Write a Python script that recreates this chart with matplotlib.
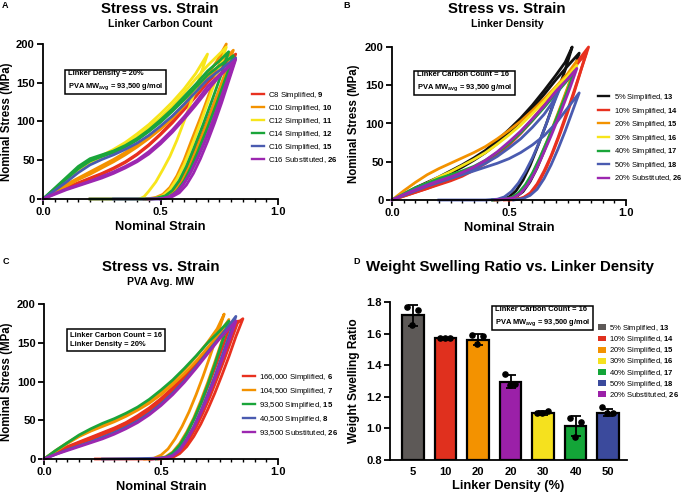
import matplotlib
matplotlib.use("Agg")
import matplotlib.pyplot as plt
from matplotlib.patches import Patch
from matplotlib.lines import Line2D
from matplotlib.ticker import MultipleLocator

plt.rcParams["font.family"] = ["Liberation Sans", "DejaVu Sans"]
plt.rcParams["mathtext.fontset"] = "custom"
plt.rcParams["mathtext.rm"] = "Liberation Sans"
plt.rcParams["mathtext.bf"] = "Liberation Sans:bold"
plt.rcParams["mathtext.it"] = "Liberation Sans:italic"

# -------------------------------
# A: linker carbon count (strain, stress MPa), one list per loop
# -------------------------------
a_c8 = [
    [(0, 0), (0.05, 8), (0.1, 15), (0.15, 21), (0.2, 27), (0.25, 33), (0.3, 40), (0.35, 48), (0.4, 58),
     (0.45, 70), (0.5, 84), (0.55, 100), (0.6, 117), (0.65, 135), (0.7, 154), (0.76, 172), (0.82, 187),
     (0.78, 155), (0.74, 124), (0.7, 93), (0.66, 62), (0.63, 40), (0.6, 22), (0.57, 10), (0.54, 4),
     (0.5, 1), (0.45, 0), (0.2, 0)],
    [(0, 0), (0.05, 7), (0.1, 14), (0.15, 20), (0.2, 26), (0.25, 32), (0.3, 39), (0.35, 47), (0.4, 57),
     (0.45, 69), (0.5, 83), (0.55, 98), (0.6, 115), (0.65, 132), (0.7, 150), (0.75, 166), (0.8, 180),
     (0.76, 148), (0.72, 117), (0.68, 86), (0.64, 57), (0.61, 37), (0.58, 20), (0.55, 9), (0.52, 3),
     (0.48, 1), (0.43, 0)],
]
a_c10 = [
    [(0, 0), (0.05, 10), (0.1, 19), (0.15, 27), (0.2, 35), (0.25, 43), (0.3, 51), (0.35, 60), (0.4, 70),
     (0.45, 80), (0.5, 92), (0.55, 106), (0.6, 122), (0.65, 140), (0.7, 160), (0.74, 178), (0.78, 200),
     (0.75, 172), (0.71, 138), (0.67, 105), (0.63, 74), (0.6, 50), (0.57, 30), (0.54, 15), (0.51, 6),
     (0.48, 2), (0.44, 0)],
    [(0, 0), (0.05, 9), (0.1, 17), (0.15, 25), (0.2, 32), (0.25, 40), (0.3, 48), (0.35, 57), (0.4, 67),
     (0.45, 78), (0.5, 90), (0.55, 104), (0.6, 120), (0.65, 137), (0.7, 155), (0.75, 173), (0.81, 192),
     (0.77, 158), (0.73, 125), (0.69, 92), (0.65, 62), (0.62, 40), (0.59, 22), (0.56, 10), (0.53, 4),
     (0.49, 1), (0.45, 0)],
]
a_c12 = [
    [(0, 0), (0.05, 13), (0.1, 26), (0.15, 38), (0.2, 48), (0.25, 56), (0.3, 64), (0.35, 73), (0.4, 84),
     (0.45, 96), (0.5, 110), (0.55, 125), (0.6, 142), (0.65, 162), (0.7, 187),
     (0.67, 160), (0.63, 125), (0.6, 100), (0.57, 76), (0.54, 55), (0.51, 38), (0.48, 22), (0.45, 10),
     (0.43, 3), (0.41, 0)],
    [(0, 0), (0.05, 12), (0.1, 24), (0.15, 36), (0.2, 46), (0.25, 54), (0.3, 62), (0.35, 70), (0.4, 80),
     (0.45, 92), (0.5, 105), (0.55, 120), (0.6, 137), (0.65, 155), (0.7, 172), (0.78, 196),
     (0.75, 168), (0.71, 132), (0.67, 98), (0.63, 66), (0.6, 44), (0.57, 26), (0.54, 12), (0.51, 4),
     (0.48, 1), (0.45, 0)],
]
a_c14 = [
    [(0, 0), (0.05, 14), (0.1, 28), (0.15, 42), (0.2, 52), (0.25, 57), (0.3, 62), (0.35, 69), (0.4, 78),
     (0.45, 89), (0.5, 102), (0.55, 116), (0.6, 132), (0.65, 148), (0.7, 165), (0.75, 178), (0.79, 190),
     (0.76, 162), (0.72, 128), (0.68, 95), (0.64, 64), (0.61, 42), (0.58, 24), (0.55, 11), (0.52, 4),
     (0.48, 1), (0.44, 0), (0.2, 0)],
    [(0, 0), (0.05, 13), (0.1, 26), (0.15, 39), (0.2, 49), (0.25, 55), (0.3, 60), (0.35, 67), (0.4, 76),
     (0.45, 87), (0.5, 99), (0.55, 113), (0.6, 128), (0.65, 144), (0.7, 160), (0.76, 174), (0.81, 185),
     (0.78, 158), (0.74, 124), (0.7, 92), (0.66, 62), (0.63, 41), (0.6, 23), (0.57, 10), (0.54, 3),
     (0.5, 1), (0.46, 0)],
]
a_c16 = [
    [(0, 0), (0.05, 11), (0.1, 22), (0.15, 34), (0.2, 44), (0.25, 51), (0.3, 57), (0.35, 64), (0.4, 72),
     (0.45, 82), (0.5, 94), (0.55, 107), (0.6, 122), (0.65, 138), (0.7, 154), (0.76, 168), (0.82, 182),
     (0.79, 155), (0.76, 128), (0.72, 97), (0.68, 68), (0.65, 48), (0.62, 30), (0.59, 16), (0.56, 7),
     (0.53, 2), (0.5, 0), (0.3, 0)],
]
a_c16_sub = [
    [(0, 0), (0.05, 7), (0.1, 13), (0.15, 18), (0.2, 23), (0.25, 29), (0.3, 35), (0.35, 42), (0.4, 50),
     (0.45, 61), (0.5, 74), (0.55, 89), (0.6, 106), (0.65, 125), (0.7, 145), (0.76, 163), (0.82, 180),
     (0.79, 152), (0.76, 124), (0.73, 98), (0.7, 74), (0.67, 52), (0.64, 33), (0.61, 18), (0.58, 8),
     (0.55, 3), (0.51, 0.5), (0.45, 0)],
    [(0, 0), (0.05, 6), (0.1, 12), (0.15, 17), (0.2, 22), (0.25, 27), (0.3, 33), (0.35, 40), (0.4, 48),
     (0.45, 58), (0.5, 71), (0.55, 86), (0.6, 103), (0.65, 121), (0.7, 140), (0.75, 158), (0.81, 176),
     (0.78, 150), (0.75, 124), (0.72, 99), (0.69, 76), (0.66, 54), (0.63, 35), (0.6, 20), (0.57, 9),
     (0.54, 3), (0.5, 0)],
]
a_labels = ["C8 Simplified, $\\mathbf{9}$", "C10 Simplified, $\\mathbf{10}$", "C12 Simplified, $\\mathbf{11}$",
            "C14 Simplified, $\\mathbf{12}$", "C16 Simplified, $\\mathbf{15}$", "C16 Substituted, $\\mathbf{26}$"]
a_series = [a_c8, a_c10, a_c12, a_c14, a_c16, a_c16_sub]
a_colors = ["#e8311f", "#f39200", "#f7e51b", "#1aa53a", "#4a5bb0", "#9c27b0"]

# -------------------------------
# B: linker density
# -------------------------------
b_5 = [
    [(0, 0), (0.05, 8), (0.1, 16), (0.15, 23), (0.2, 30), (0.25, 38), (0.3, 46), (0.35, 55), (0.4, 65),
     (0.45, 78), (0.5, 92), (0.55, 107), (0.6, 124), (0.65, 143), (0.7, 163), (0.74, 180), (0.77, 200),
     (0.74, 170), (0.7, 135), (0.66, 100), (0.62, 68), (0.59, 45), (0.56, 26), (0.53, 12), (0.5, 4),
     (0.47, 1), (0.43, 0)],
    [(0, 0), (0.05, 7), (0.1, 14), (0.15, 21), (0.2, 28), (0.25, 35), (0.3, 43), (0.35, 52), (0.4, 62),
     (0.45, 74), (0.5, 88), (0.55, 103), (0.6, 120), (0.65, 138), (0.7, 157), (0.75, 175), (0.8, 192),
     (0.77, 162), (0.73, 128), (0.69, 95), (0.65, 64), (0.62, 42), (0.59, 24), (0.56, 11), (0.53, 4),
     (0.5, 1), (0.45, 0)],
]
b_10 = [
    [(0, 0), (0.05, 5), (0.1, 10), (0.15, 15), (0.2, 20), (0.25, 25), (0.3, 31), (0.35, 39), (0.4, 48),
     (0.45, 59), (0.5, 72), (0.55, 87), (0.6, 104), (0.65, 122), (0.7, 142), (0.75, 162), (0.8, 184),
     (0.84, 200), (0.81, 172), (0.78, 142), (0.75, 114), (0.72, 88), (0.69, 64), (0.66, 42), (0.63, 24),
     (0.6, 11), (0.57, 4), (0.54, 1), (0.5, 0)],
    [(0, 0), (0.05, 5), (0.1, 10), (0.15, 15), (0.2, 21), (0.25, 26), (0.3, 33), (0.35, 41), (0.4, 50),
     (0.45, 61), (0.5, 74), (0.55, 89), (0.6, 106), (0.65, 124), (0.7, 143), (0.75, 162), (0.8, 181),
     (0.83, 192), (0.8, 163), (0.77, 135), (0.74, 108), (0.71, 82), (0.68, 58), (0.65, 38), (0.62, 21),
     (0.59, 9), (0.56, 3), (0.52, 0.5), (0.48, 0)],
]
b_20 = [
    [(0, 0), (0.05, 12), (0.1, 23), (0.15, 33), (0.2, 41), (0.25, 48), (0.3, 55), (0.35, 62), (0.4, 70),
     (0.45, 80), (0.5, 91), (0.55, 103), (0.6, 117), (0.65, 132), (0.7, 148), (0.75, 165), (0.79, 182),
     (0.76, 155), (0.72, 122), (0.68, 90), (0.64, 60), (0.61, 40), (0.58, 23), (0.55, 10), (0.52, 3),
     (0.48, 1), (0.44, 0)],
]
b_30 = [
    [(0, 0), (0.05, 8), (0.1, 15), (0.15, 22), (0.2, 30), (0.25, 37), (0.3, 45), (0.35, 53), (0.4, 62),
     (0.45, 73), (0.5, 85), (0.55, 98), (0.6, 113), (0.65, 129), (0.7, 147), (0.75, 162), (0.79, 176),
     (0.76, 150), (0.72, 118), (0.68, 87), (0.64, 58), (0.61, 38), (0.58, 22), (0.55, 10), (0.52, 3),
     (0.48, 1), (0.44, 0)],
]
b_40 = [
    [(0, 0), (0.05, 8), (0.1, 16), (0.15, 22), (0.2, 28), (0.25, 33), (0.3, 38), (0.35, 44), (0.4, 52),
     (0.45, 62), (0.5, 74), (0.55, 88), (0.6, 104), (0.65, 121), (0.7, 139), (0.74, 153), (0.78, 168),
     (0.75, 143), (0.71, 112), (0.67, 82), (0.63, 54), (0.6, 35), (0.57, 20), (0.54, 9), (0.51, 3),
     (0.47, 1), (0.43, 0)],
]
b_50 = [
    [(0, 0), (0.05, 7), (0.1, 14), (0.15, 20), (0.2, 25), (0.25, 30), (0.3, 35), (0.35, 41), (0.4, 48),
     (0.45, 57), (0.5, 68), (0.55, 80), (0.6, 95), (0.65, 112), (0.68, 125), (0.72, 148),
     (0.69, 125), (0.66, 100), (0.63, 76), (0.6, 55), (0.57, 37), (0.54, 22), (0.51, 11), (0.48, 4),
     (0.45, 1), (0.4, 0), (0.2, 0)],
    [(0, 0), (0.05, 6), (0.1, 12), (0.15, 18), (0.2, 23), (0.25, 28), (0.3, 33), (0.35, 38), (0.4, 43),
     (0.45, 48), (0.5, 54), (0.55, 62), (0.6, 72), (0.65, 84), (0.7, 100), (0.75, 120), (0.8, 140),
     (0.77, 115), (0.74, 90), (0.71, 67), (0.68, 46), (0.65, 28), (0.62, 14), (0.59, 6), (0.56, 2),
     (0.52, 0)],
]
b_20_sub = [
    [(0, 0), (0.05, 7), (0.1, 13), (0.15, 19), (0.2, 25), (0.25, 30), (0.3, 36), (0.35, 43), (0.4, 52),
     (0.45, 63), (0.5, 76), (0.55, 90), (0.6, 106), (0.65, 123), (0.7, 142), (0.75, 158), (0.79, 172),
     (0.76, 146), (0.72, 114), (0.68, 84), (0.64, 56), (0.61, 36), (0.58, 20), (0.55, 9), (0.52, 3),
     (0.48, 1), (0.44, 0)],
]
b_labels = ["5% Simplified, $\\mathbf{13}$", "10% Simplified, $\\mathbf{14}$", "20% Simplified, $\\mathbf{15}$",
            "30% Simplified, $\\mathbf{16}$", "40% Simplified, $\\mathbf{17}$", "50% Simplified, $\\mathbf{18}$",
            "20% Substituted, $\\mathbf{26}$"]
b_series = [b_5, b_10, b_20, b_30, b_40, b_50, b_20_sub]
b_colors = ["#111111", "#e8311f", "#f39200", "#f7e51b", "#1aa53a", "#4a5bb0", "#9c27b0"]

# -------------------------------
# C: PVA average MW
# -------------------------------
c_166k = [
    [(0, 0), (0.05, 7), (0.1, 14), (0.15, 20), (0.2, 25), (0.25, 31), (0.3, 37), (0.35, 44), (0.4, 52),
     (0.45, 62), (0.5, 74), (0.55, 88), (0.6, 104), (0.65, 121), (0.7, 139), (0.75, 156), (0.8, 170),
     (0.85, 181), (0.82, 158), (0.79, 132), (0.76, 108), (0.73, 85), (0.7, 64), (0.67, 45), (0.64, 29),
     (0.61, 16), (0.58, 7), (0.55, 2), (0.5, 0.5), (0.45, 0), (0.22, 0)],
    [(0, 0), (0.05, 8), (0.1, 16), (0.15, 22), (0.2, 28), (0.25, 34), (0.3, 40), (0.35, 47), (0.4, 56),
     (0.45, 66), (0.5, 78), (0.55, 92), (0.6, 108), (0.65, 125), (0.7, 142), (0.75, 158), (0.8, 170),
     (0.83, 178), (0.8, 153), (0.77, 128), (0.74, 104), (0.71, 81), (0.68, 60), (0.65, 41), (0.62, 25),
     (0.59, 13), (0.56, 5), (0.53, 1), (0.49, 0)],
    [(0, 0), (0.05, 7), (0.1, 15), (0.15, 21), (0.2, 27), (0.25, 33), (0.3, 39), (0.35, 46), (0.4, 54),
     (0.45, 64), (0.5, 76), (0.55, 90), (0.6, 106), (0.65, 123), (0.7, 141), (0.75, 158), (0.8, 176),
     (0.77, 150), (0.74, 125), (0.71, 101), (0.68, 78), (0.65, 57), (0.62, 38), (0.59, 22), (0.56, 10),
     (0.53, 3), (0.5, 1), (0.45, 0)],
]
c_104k = [
    [(0, 0), (0.05, 11), (0.1, 21), (0.15, 30), (0.2, 37), (0.25, 44), (0.3, 50), (0.35, 57), (0.4, 65),
     (0.45, 75), (0.5, 87), (0.55, 100), (0.6, 115), (0.65, 132), (0.7, 151), (0.74, 168), (0.77, 187),
     (0.74, 160), (0.71, 133), (0.68, 107), (0.65, 83), (0.62, 61), (0.59, 42), (0.56, 26), (0.53, 13),
     (0.5, 5), (0.47, 1), (0.43, 0)],
    [(0, 0), (0.05, 10), (0.1, 20), (0.15, 29), (0.2, 36), (0.25, 42), (0.3, 48), (0.35, 55), (0.4, 63),
     (0.45, 72), (0.5, 83), (0.55, 96), (0.6, 110), (0.65, 126), (0.7, 144), (0.75, 162), (0.79, 180),
     (0.76, 152), (0.73, 125), (0.7, 99), (0.67, 75), (0.64, 53), (0.61, 35), (0.58, 20), (0.55, 9),
     (0.52, 3), (0.49, 1), (0.45, 0)],
]
c_93k = [
    [(0, 0), (0.05, 11), (0.1, 21), (0.15, 31), (0.2, 39), (0.25, 46), (0.3, 52), (0.35, 59), (0.4, 67),
     (0.45, 77), (0.5, 89), (0.55, 102), (0.6, 117), (0.65, 133), (0.7, 150), (0.75, 165), (0.79, 178),
     (0.76, 150), (0.73, 122), (0.7, 96), (0.67, 72), (0.64, 51), (0.61, 33), (0.58, 18), (0.55, 8),
     (0.52, 2), (0.48, 0)],
]
c_40k = [
    [(0, 0), (0.05, 6), (0.1, 12), (0.15, 17), (0.2, 22), (0.25, 28), (0.3, 34), (0.35, 41), (0.4, 49),
     (0.45, 59), (0.5, 71), (0.55, 85), (0.6, 101), (0.65, 119), (0.7, 138), (0.75, 157), (0.79, 172),
     (0.82, 184), (0.79, 158), (0.76, 132), (0.73, 107), (0.7, 84), (0.67, 62), (0.64, 42), (0.61, 26),
     (0.58, 13), (0.55, 5), (0.52, 2), (0.48, 1), (0.4, 0.5), (0.25, 0)],
]
c_93k_sub = [
    [(0, 0), (0.05, 6), (0.1, 11), (0.15, 16), (0.2, 21), (0.25, 26), (0.3, 32), (0.35, 39), (0.4, 47),
     (0.45, 57), (0.5, 69), (0.55, 83), (0.6, 99), (0.65, 117), (0.7, 136), (0.75, 155), (0.79, 168),
     (0.82, 178), (0.79, 152), (0.76, 127), (0.73, 103), (0.7, 80), (0.67, 59), (0.64, 40), (0.61, 24),
     (0.58, 11), (0.55, 4), (0.51, 1), (0.46, 0)],
]
c_labels = ["166,000 Simplified, $\\mathbf{6}$", "104,500 Simplified, $\\mathbf{7}$",
            "93,500 Simplified, $\\mathbf{15}$", "40,500 Simplified, $\\mathbf{8}$",
            "93,500 Substituted, $\\mathbf{26}$"]
c_series = [c_166k, c_104k, c_93k, c_40k, c_93k_sub]
c_colors = ["#e8311f", "#f39200", "#1aa53a", "#4a5bb0", "#9c27b0"]

# -------------------------------
# D: weight swelling ratio
# -------------------------------
d_ticks = ["5", "10", "20", "20", "30", "40", "50"]
d_labels = ["5% Simplified, $\\mathbf{13}$", "10% Simplified, $\\mathbf{14}$", "20% Simplified, $\\mathbf{15}$",
            "30% Simplified, $\\mathbf{16}$", "40% Simplified, $\\mathbf{17}$", "50% Simplified, $\\mathbf{18}$",
            "20% Substituted, $\\mathbf{26}$"]
d_means = [1.715, 1.570, 1.562, 1.295, 1.097, 1.015, 1.100]
d_sd = [0.065, 0.005, 0.035, 0.042, 0.010, 0.062, 0.022]
d_points = [
    [1.768, 1.752, 1.653],
    [1.573, 1.573, 1.573],
    [1.589, 1.583, 1.537],
    [1.343, 1.278, 1.274],
    [1.099, 1.109, 1.099],
    [1.067, 1.042, 0.947],
    [1.133, 1.095, 1.095],
]
d_bar_colors = ["#5d5957", "#e0301e", "#f39200", "#9b20a8", "#f5e11e", "#13a538", "#3b4a9c"]
d_legend_colors = ["#5d5957", "#e0301e", "#f39200", "#f5e11e", "#13a538", "#3b4a9c", "#9b20a8"]
d_jitter = [-0.18, 0.15, -0.02]

fig = plt.figure(figsize=(6.85, 4.95), dpi=100)


def style_axes(ax):
    for side in ("top", "right"):
        ax.spines[side].set_visible(False)
    for side in ("left", "bottom"):
        ax.spines[side].set_linewidth(1.3)
    ax.tick_params(which="major", length=4, width=1.3, labelsize=8, pad=2)
    ax.tick_params(which="minor", length=2.5, width=1.0)
    for t in ax.get_xticklabels() + ax.get_yticklabels():
        t.set_fontweight("bold")


def stress_panel(rect, series, colors, labels, legend_xy, spacing, ylab_x, fs=5.6):
    ax = fig.add_axes(rect)
    for loops, col in zip(series, colors):
        for loop in loops:
            ax.plot([p[0] for p in loop], [p[1] for p in loop], color=col, lw=2.0,
                    clip_on=False, solid_joinstyle="round")
    ax.set_xlim(0, 1)
    ax.set_ylim(0, 200)
    ax.set_xticks([0, 0.5, 1.0])
    ax.set_xticklabels(["0.0", "0.5", "1.0"])
    ax.set_yticks([0, 50, 100, 150, 200])
    ax.xaxis.set_minor_locator(MultipleLocator(0.05))
    ax.set_xlabel("Nominal Strain", fontsize=9.3, fontweight="bold", labelpad=3)
    ax.set_ylabel("Nominal Stress (MPa)", fontsize=8.3, fontweight="bold")
    ax.yaxis.set_label_coords(ylab_x, 0.5)
    style_axes(ax)
    handles = [Line2D([], [], color=c, lw=1.7) for c in colors]
    fig.legend(handles, labels, loc="upper left", bbox_to_anchor=legend_xy, frameon=False,
               fontsize=fs, handlelength=1.5, handletextpad=0.6, labelspacing=spacing,
               borderaxespad=0, borderpad=0)
    return ax


def titles(x, y, main, sub=None, size=10.8):
    fig.text(x / 685, 1 - y / 495, main, ha="center", va="center", fontsize=size, fontweight="bold")
    if sub:
        fig.text(x / 685, 1 - (y + 15) / 495, sub, ha="center", va="center", fontsize=7.6,
                 fontweight="bold")


def note(x, y, text):
    fig.text(x / 685, 1 - y / 495, text, ha="left", va="center", fontsize=5.4, fontweight="bold",
             linespacing=1.5,
             bbox=dict(boxstyle="square,pad=0.35", fc="white", ec="black", lw=1.1))


# A
stress_panel([43 / 685, 1 - 199 / 495, 235 / 685, 155 / 495], a_series, a_colors, a_labels,
             (252 / 685, 1 - 90 / 495), 0.25, (13 - 43) / 235)
titles(160, 9, "Stress vs. Strain", "Linker Carbon Count")
note(68, 81, "Linker Density = 20%\nPVA MW$_{\\mathbf{avg}}$ = 93,500 g/mol")
fig.text(2 / 685, 1 - 5 / 495, "A", fontsize=6.5, fontweight="bold", va="center")

# B
stress_panel([392 / 685, 1 - 200 / 495, 234 / 685, 153 / 495], b_series, b_colors, b_labels,
             (598 / 685, 1 - 92 / 495), 0.34, (360 - 392) / 234, fs=5.45)
titles(507, 9, "Stress vs. Strain", "Linker Density")
note(417, 82, "Linker Carbon Count = 16\nPVA MW$_{\\mathbf{avg}}$ = 93,500 g/mol")
fig.text(343 / 685, 1 - 5 / 495, "B", fontsize=6.5, fontweight="bold", va="center")

# C
stress_panel([44 / 685, 1 - 459 / 495, 234 / 685, 155 / 495], c_series, c_colors, c_labels,
             (243 / 685, 1 - 372 / 495), 0.38, (13 - 44) / 234)
titles(161, 267, "Stress vs. Strain", "PVA Avg. MW")
note(70, 340, "Linker Carbon Count = 16\nLinker Density = 20%")
fig.text(3 / 685, 1 - 262 / 495, "C", fontsize=6.5, fontweight="bold", va="center")

# D
ax = fig.add_axes([390 / 685, 1 - 460 / 495, 237 / 685, 158 / 495])
xs = list(range(len(d_means)))
ax.bar(xs, [m - 0.8 for m in d_means], bottom=0.8, width=0.66, color=d_bar_colors,
       edgecolor="black", linewidth=1.6, zorder=2)
ax.errorbar(xs, d_means, yerr=d_sd, fmt="none", ecolor="black", elinewidth=1.3, capsize=3.5,
            capthick=1.3, zorder=3)
for x, pts in zip(xs, d_points):
    ax.scatter([x + j for j in d_jitter], pts, s=14, color="black", zorder=4)
ax.set_xlim(-0.71, 6.58)
ax.set_ylim(0.8, 1.8)
ax.set_yticks([0.8, 1.0, 1.2, 1.4, 1.6, 1.8])
ax.set_xticks(xs)
ax.set_xticklabels(d_ticks)
ax.set_xlabel("Linker Density (%)", fontsize=9.3, fontweight="bold", labelpad=2)
ax.set_ylabel("Weight Swelling Ratio", fontsize=8.6, fontweight="bold")
ax.yaxis.set_label_coords((360 - 390) / 237, 0.5)
style_axes(ax)
ax.tick_params(axis="x", length=0, pad=5)
handles = [Patch(facecolor=c, edgecolor="none") for c in d_legend_colors]
fig.legend(handles, d_labels, loc="upper left", bbox_to_anchor=(598 / 685, 1 - 323 / 495),
           frameon=False, fontsize=5.5, handlelength=1.1, handleheight=0.8, handletextpad=0.4,
           labelspacing=0.02, borderaxespad=0, borderpad=0)
titles(510, 267, "Weight Swelling Ratio vs. Linker Density", size=10.8)
note(495, 317, "Linker Carbon Count = 16\nPVA MW$_{\\mathbf{avg}}$ = 93,500 g/mol")
fig.text(353 / 685, 1 - 262 / 495, "D", fontsize=6.5, fontweight="bold", va="center")

fig.savefig("out.png", dpi=100)
